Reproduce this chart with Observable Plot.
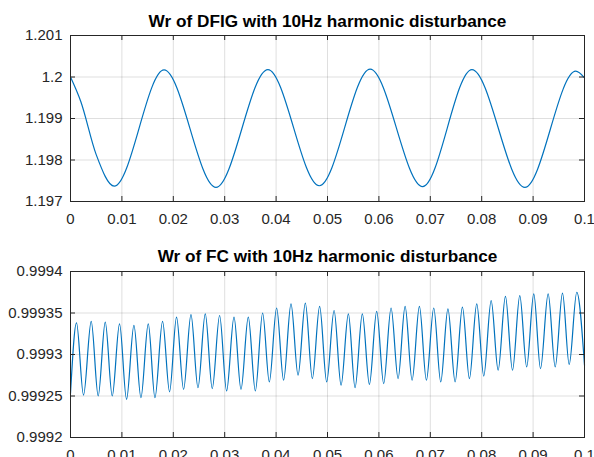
<!DOCTYPE html>
<html><head><meta charset="utf-8">
<script src="https://cdn.jsdelivr.net/npm/d3@7"></script>
<script src="https://cdn.jsdelivr.net/npm/@observablehq/plot@0.6"></script>
<style>
html,body{margin:0;padding:0;background:#fff;overflow:hidden}
#chart{width:594px;height:457px;position:relative;overflow:hidden}
#chart svg{display:block;overflow:visible}
</style></head><body><div id="chart"></div>
<script>
// ---- data ----
const titleDFIG = "Wr of DFIG with 10Hz harmonic disturbance";
const titleFC = "Wr of FC with 10Hz harmonic disturbance";

const xTicks = [0, 0.01, 0.02, 0.03, 0.04, 0.05, 0.06, 0.07, 0.08, 0.09, 0.1];
const xTickLabels = ["0", "0.01", "0.02", "0.03", "0.04", "0.05", "0.06", "0.07", "0.08", "0.09", "0.1"];

const yTicksDFIG = [1.197, 1.198, 1.199, 1.2, 1.201];
const yTickLabelsDFIG = ["1.197", "1.198", "1.199", "1.2", "1.201"];

const yTicksFC = [0.9992, 0.99925, 0.9993, 0.99935, 0.9994];
const yTickLabelsFC = ["0.9992", "0.99925", "0.9993", "0.99935", "0.9994"];

// DFIG rotor speed (time s, value)
const tDFIG = [0, 0.002, 0.005, 0.0085, 0.0182, 0.0283, 0.0384, 0.0484, 0.0583, 0.0685, 0.0781, 0.0884, 0.0983, 0.1];
const wDFIG = [1.2000, 1.19941, 1.19813, 1.19737, 1.20017, 1.19734, 1.20018, 1.19738, 1.20019, 1.19736, 1.20018, 1.19734, 1.20014, 1.19998];

// FC rotor speed: peaks and troughs
const tFC = [0, 0.00117, 0.00253, 0.00403, 0.00539, 0.00676, 0.00812, 0.00954, 0.01090, 0.01234,
  0.01370, 0.01513, 0.01643, 0.01791, 0.01927, 0.02063, 0.02200, 0.02344, 0.02480, 0.02622,
  0.02758, 0.02901, 0.03037, 0.03181, 0.03317, 0.03459, 0.03596, 0.03738, 0.03868, 0.04010,
  0.04146, 0.04290, 0.04427, 0.04569, 0.04705, 0.04847, 0.04984, 0.05128, 0.05264, 0.05406,
  0.05536, 0.05678, 0.05815, 0.05957, 0.06093, 0.06237, 0.06373, 0.06510, 0.06646, 0.06788,
  0.06924, 0.07067, 0.07203, 0.07343, 0.07483, 0.07625, 0.07761, 0.07904, 0.08040, 0.08184,
  0.08320, 0.08462, 0.08599, 0.08741, 0.08875, 0.09013, 0.09144, 0.09293, 0.09430, 0.09572,
  0.09702, 0.09850, 0.1];
const wFC = [0.999253, 0.999338, 0.999251, 0.999340, 0.999250, 0.999339, 0.999250, 0.999337, 0.999246, 0.999335,
  0.999248, 0.999337, 0.999248, 0.999340, 0.999255, 0.999345, 0.999258, 0.999348, 0.999260, 0.999349,
  0.999259, 0.999347, 0.999256, 0.999345, 0.999258, 0.999345, 0.999256, 0.999350, 0.999267, 0.999356,
  0.999269, 0.999361, 0.999275, 0.999362, 0.999271, 0.999358, 0.999267, 0.999353, 0.999263, 0.999349,
  0.999260, 0.999349, 0.999264, 0.999352, 0.999265, 0.999356, 0.999271, 0.999358, 0.999269, 0.999358,
  0.999269, 0.999356, 0.999267, 0.999355, 0.999267, 0.999357, 0.999271, 0.999361, 0.999274, 0.999365,
  0.999281, 0.999370, 0.999281, 0.999371, 0.999285, 0.999373, 0.999283, 0.999373, 0.999285, 0.999374,
  0.999288, 0.999375, 0.999287];

// ---- drawing ----
const W = 594, ML = 70, MR = 10;
const axisColor = "#262626";
const lineColor = "#0072BD";

function panel({t, w, yTicks, yLabels, title, height, marginTop, marginBottom, titleDy}) {
  const frameH = height - marginTop - marginBottom;
  const frameW = W - ML - MR;
  const tickLen = 5;
  const idx = d3.range(t.length);
  const xFmt = d => xTickLabels[xTicks.indexOf(d)];
  const yFmt = d => yLabels[yTicks.indexOf(d)];
  return Plot.plot({
    width: W, height, marginLeft: ML, marginRight: MR, marginTop, marginBottom,
    style: {fontFamily: "'Liberation Sans', Arial, sans-serif", fontSize: "15px", color: axisColor, background: "white", overflow: "visible"},
    x: {domain: [0, 0.1]},
    y: {domain: [yTicks[0], yTicks[yTicks.length - 1]]},
    marks: [
      Plot.ruleX(xTicks, {x: d => d, stroke: axisColor, strokeOpacity: 0.15}),
      Plot.ruleY(yTicks, {y: d => d, stroke: axisColor, strokeOpacity: 0.15}),
      Plot.line(idx, {x: i => t[i], y: i => w[i], stroke: lineColor, strokeWidth: 1.2, curve: "monotone-x"}),
      Plot.frame({stroke: axisColor, strokeWidth: 1}),
      Plot.tickX(xTicks, {x: d => d, insetTop: frameH - tickLen, stroke: axisColor}),
      Plot.tickX(xTicks, {x: d => d, insetBottom: frameH - tickLen, stroke: axisColor}),
      Plot.tickY(yTicks, {y: d => d, insetRight: frameW - tickLen, stroke: axisColor}),
      Plot.tickY(yTicks, {y: d => d, insetLeft: frameW - tickLen, stroke: axisColor}),
      Plot.axisX(xTicks, {tickSize: 0, tickPadding: 12, tickFormat: xFmt, label: null, fill: axisColor}),
      Plot.axisY(yTicks, {tickSize: 0, tickPadding: 8, tickFormat: yFmt, label: null, fill: axisColor}),
      Plot.text([title], {text: d => d, frameAnchor: "top", dy: titleDy, lineAnchor: "middle",
        fontWeight: "bold", fontSize: 17.2, fill: "black"})
    ]
  });
}

const chart = document.getElementById("chart");
chart.append(panel({t: tDFIG, w: wDFIG, yTicks: yTicksDFIG, yLabels: yTickLabelsDFIG, title: titleDFIG,
  height: 240, marginTop: 35, marginBottom: 39, titleDy: -14}));
chart.append(panel({t: tFC, w: wFC, yTicks: yTicksFC, yLabels: yTickLabelsFC, title: titleFC,
  height: 217, marginTop: 31, marginBottom: 20, titleDy: -15}));
</script>
</body></html>
